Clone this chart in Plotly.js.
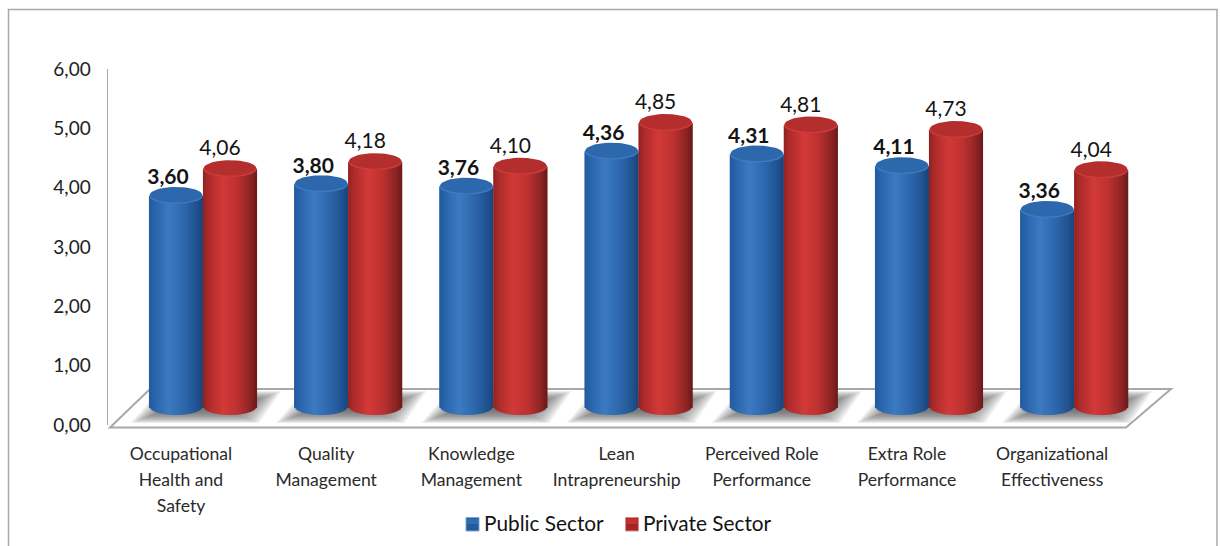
<!DOCTYPE html>
<html>
<head>
<meta charset="utf-8">
<script src="https://cdn.plot.ly/plotly-3.0.1.min.js"></script>
<style>html,body{margin:0;padding:0;background:#fff}</style>
</head>
<body>
<div id="chart" style="width:1220px;height:546px"></div>
<script>
// Survey means by sector
const categories = [
  ['Occupational', 'Health and', 'Safety'],
  ['Quality', 'Management'],
  ['Knowledge', 'Management'],
  ['Lean', 'Intrapreneurship'],
  ['Perceived Role', 'Performance'],
  ['Extra Role', 'Performance'],
  ['Organizational', 'Effectiveness']
];
const publicSector  = [3.60, 3.80, 3.76, 4.36, 4.31, 4.11, 3.36];
const privateSector = [4.06, 4.18, 4.10, 4.85, 4.81, 4.73, 4.04];
const yTicks = [0, 1, 2, 3, 4, 5, 6];

// Page geometry of the plot area (pixels)
const W = 1220, H = 546;
const L = 108, R = 1172, T = 69, B = 425;
const pxPerGroup = 145.2;
const pxPerUnit = 58.35;
const baseLinePx = 406;          // where value 0 of the cylinders sits, raised above the floor front
const firstTickPx = 181;

const xMin = -(firstTickPx - L) / pxPerGroup;
const xMax = xMin + (R - L) / pxPerGroup;
const y2Min = -(B - baseLinePx) / pxPerUnit;
const y2Max = (baseLinePx - T) / pxPerUnit;

const rx = 26.8 / pxPerGroup;    // cylinder radius in x units
const capRy = 8 / pxPerUnit;     // top ellipse radius in value units
const footRy = 9 / pxPerUnit;    // bottom ellipse radius in value units
const STRIPS = 36;

const hex2rgb = h => [1, 3, 5].map(i => parseInt(h.substr(i, 2), 16));
function ramp(stops, t) {
  for (let i = 1; i < stops.length; i++) {
    if (t <= stops[i][0]) {
      const [t0, c0] = stops[i - 1], [t1, c1] = stops[i];
      const f = (t - t0) / (t1 - t0), a = hex2rgb(c0), b = hex2rgb(c1);
      return 'rgb(' + a.map((v, k) => Math.round(v + (b[k] - v) * f)).join(',') + ')';
    }
  }
  return stops[stops.length - 1][1];
}

const series = [
  { name: 'Public Sector', values: publicSector, solid: '#2e69b0',
    offset: 176 - firstTickPx, labelDx: -8, labelDy: 17, bold: true,
    cap: '#2d68ad', rim: '#3f79bf',
    stops: [[-1, '#225a9e'], [-0.75, '#2a66ad'], [-0.25, '#3c7ac2'], [0.35, '#2c66ab'], [0.8, '#20518f'], [1, '#1a4478']] },
  { name: 'Private Sector', values: privateSector, solid: '#c0302f',
    offset: 230 - firstTickPx, labelDx: -10, labelDy: 19, bold: false,
    cap: '#b42e2e', rim: '#cb3b3b',
    stops: [[-1, '#8f2222'], [-0.8, '#ad2b2b'], [-0.25, '#d23a38'], [0.3, '#bc3130'], [0.8, '#8a2323'], [1, '#6a1a1a']] }
];

const fmt = v => v.toFixed(2).replace('.', ',');
const traces = [];

// Holds the left value axis in place; the cylinders live on the overlaid axis
traces.push({ x: [0], y: [0], mode: 'none', type: 'scatter', showlegend: false, hoverinfo: 'skip' });

series.forEach(s => {
  const centers = s.values.map((_, i) => i + s.offset / pxPerGroup);

  // Plain bars carrying the values
  traces.push({
    type: 'bar', name: s.name, x: centers, y: s.values, yaxis: 'y2',
    width: 2 * rx, marker: { color: s.solid, line: { width: 0 } }, hoverinfo: 'skip', showlegend: false
  });

  // Vertical strips shading each bar as a cylinder with a rounded foot
  const sx = [], sy = [], sb = [], sc = [];
  s.values.forEach((v, i) => {
    for (let k = 0; k < STRIPS; k++) {
      const t = -1 + (2 * k + 1) / STRIPS;
      const drop = footRy * Math.sqrt(1 - t * t);
      sx.push(centers[i] + rx * t);
      sb.push(-drop);
      sy.push(v + drop);
      sc.push(ramp(s.stops, t));
    }
  });
  traces.push({
    type: 'bar', x: sx, y: sy, base: sb, yaxis: 'y2', showlegend: false, hoverinfo: 'skip',
    width: 2 * rx / STRIPS * 1.35, marker: { color: sc, line: { width: 0 } }
  });

  // Elliptical tops: a lighter rim with the flat face nudged upward over it
  const ellipse = (scale, lift) => {
    const ex = [], ey = [];
    s.values.forEach((v, i) => {
      for (let a = 0; a <= 48; a++) {
        const th = a / 48 * 2 * Math.PI;
        ex.push(centers[i] + rx * scale * Math.cos(th));
        ey.push(v + lift + capRy * scale * Math.sin(th));
      }
      ex.push(null); ey.push(null);
    });
    return { ex, ey };
  };
  [[1, 0, s.rim], [0.97, 1.2 / pxPerUnit, s.cap]].forEach(([scale, lift, color]) => {
    const { ex, ey } = ellipse(scale, lift);
    traces.push({
      type: 'scatter', mode: 'lines', x: ex, y: ey, yaxis: 'y2', fill: 'toself',
      fillcolor: color, line: { width: 0, color: color }, showlegend: false, hoverinfo: 'skip'
    });
  });

  // Value labels above each cylinder
  traces.push({
    type: 'scatter', mode: 'text', yaxis: 'y2', showlegend: false, hoverinfo: 'skip',
    x: centers.map(c => c + s.labelDx / pxPerGroup),
    y: s.values.map(v => v + s.labelDy / pxPerUnit),
    text: s.values.map(v => s.bold ? '<b>' + fmt(v) + '</b>' : fmt(v)),
    textposition: 'middle center',
    textfont: { family: 'Lato, sans-serif', size: 21, color: '#141414' },
    cliponaxis: false
  });
});

// Pixel helpers for the decorative floor, frame and key, given in paper coordinates
const px = x => (x - L) / (R - L);
const py = y => (B - y) / (B - T);
const pathOf = pts => pts.map((p, i) => (i ? 'L' : 'M') + px(p[0]).toFixed(5) + ',' + py(p[1]).toFixed(5)).join(' ') + ' Z';
const paperRect = (x0, y0, x1, y1, fill, line) => ({
  type: 'rect', xref: 'paper', yref: 'paper', layer: 'below',
  x0: px(x0), x1: px(x1), y0: py(y0), y1: py(y1), fillcolor: fill, line: line || { width: 0 }
});

const shapes = [];
shapes.push(paperRect(8.5, 9.5, 1217, 560, '#ffffff', { color: '#a9a9a9', width: 1.5 }));
shapes.push({ type: 'path', xref: 'paper', yref: 'paper', layer: 'below',
  path: pathOf([[110, 427.5], [150, 389], [1171, 389], [1126, 427.5]]),
  line: { color: '#a8a8a8', width: 2 }, fillcolor: '#ffffff' });

// Soft floor shadow under each pair of cylinders, built from nested translucent layers
for (let i = 0; i < categories.length; i++) {
  const gc = 203 + pxPerGroup * i;
  for (let j = 0; j < 14; j++) {
    const inset = j * 2.4, vin = j * 0.9;
    shapes.push({ type: 'path', xref: 'paper', yref: 'paper', layer: 'below',
      path: pathOf([
        [gc - 72 + inset, 423 - vin], [gc - 44 + inset, 391 + vin],
        [gc + 78 - inset, 391 + vin], [gc + 56 - inset, 423 - vin]
      ]),
      line: { width: 0 }, fillcolor: 'rgba(90,90,90,0.10)' });
  }
}

// Sector key drawn below the category labels
const keyEntries = [
  { label: series[0].name, sx: 466, tx: 482, top: '#2f6cb4', face: '#235a9c', edge: '#7ea6d2' },
  { label: series[1].name, sx: 625.5, tx: 641, top: '#c23232', face: '#a52626', edge: '#d98a8a' }
];
const annotations = [];
keyEntries.forEach(k => {
  shapes.push(paperRect(k.sx, 517.5, k.sx + 13, 531, k.face, { color: k.edge, width: 1 }));
  shapes.push(paperRect(k.sx + 1, 518.5, k.sx + 12, 524, k.top));
  annotations.push({
    xref: 'paper', yref: 'paper', x: px(k.tx), y: py(522), xanchor: 'left', yanchor: 'middle',
    text: k.label, showarrow: false,
    font: { family: 'Lato, sans-serif', size: 20.8, color: '#141414' }
  });
});

const ticktext = categories.map(lines =>
  lines.map(t => '<span style="font-size:17.6px">' + t + '</span>').join('<br>'));

const layout = {
  width: W, height: H,
  margin: { l: L, r: W - R, t: T, b: H - B, pad: 0 },
  paper_bgcolor: '#ffffff', plot_bgcolor: 'rgba(0,0,0,0)',
  separators: ',.',
  barmode: 'overlay',
  showlegend: false,
  xaxis: {
    range: [xMin, xMax], showgrid: false, zeroline: false, showline: false,
    tickmode: 'array', tickvals: categories.map((_, i) => i), ticktext: ticktext,
    ticks: '', tickfont: { family: 'Lato, sans-serif', size: 20, color: '#2a2a2a' }, tickangle: 0,
    ticklabelstandoff: 14
  },
  yaxis: {
    range: [0, 6], showgrid: false, zeroline: false, showline: true,
    linecolor: '#a8a8a8', linewidth: 1.5, ticks: '',
    tickmode: 'array', tickvals: yTicks, tickformat: '.2f', ticklabelstandoff: 12,
    tickfont: { family: 'Lato, sans-serif', size: 19, color: '#222222' }
  },
  yaxis2: { range: [y2Min, y2Max], overlaying: 'y', visible: false },
  shapes: shapes,
  annotations: annotations
};

Plotly.newPlot('chart', traces, layout, { displayModeBar: false, staticPlot: true });
</script>
</body>
</html>
